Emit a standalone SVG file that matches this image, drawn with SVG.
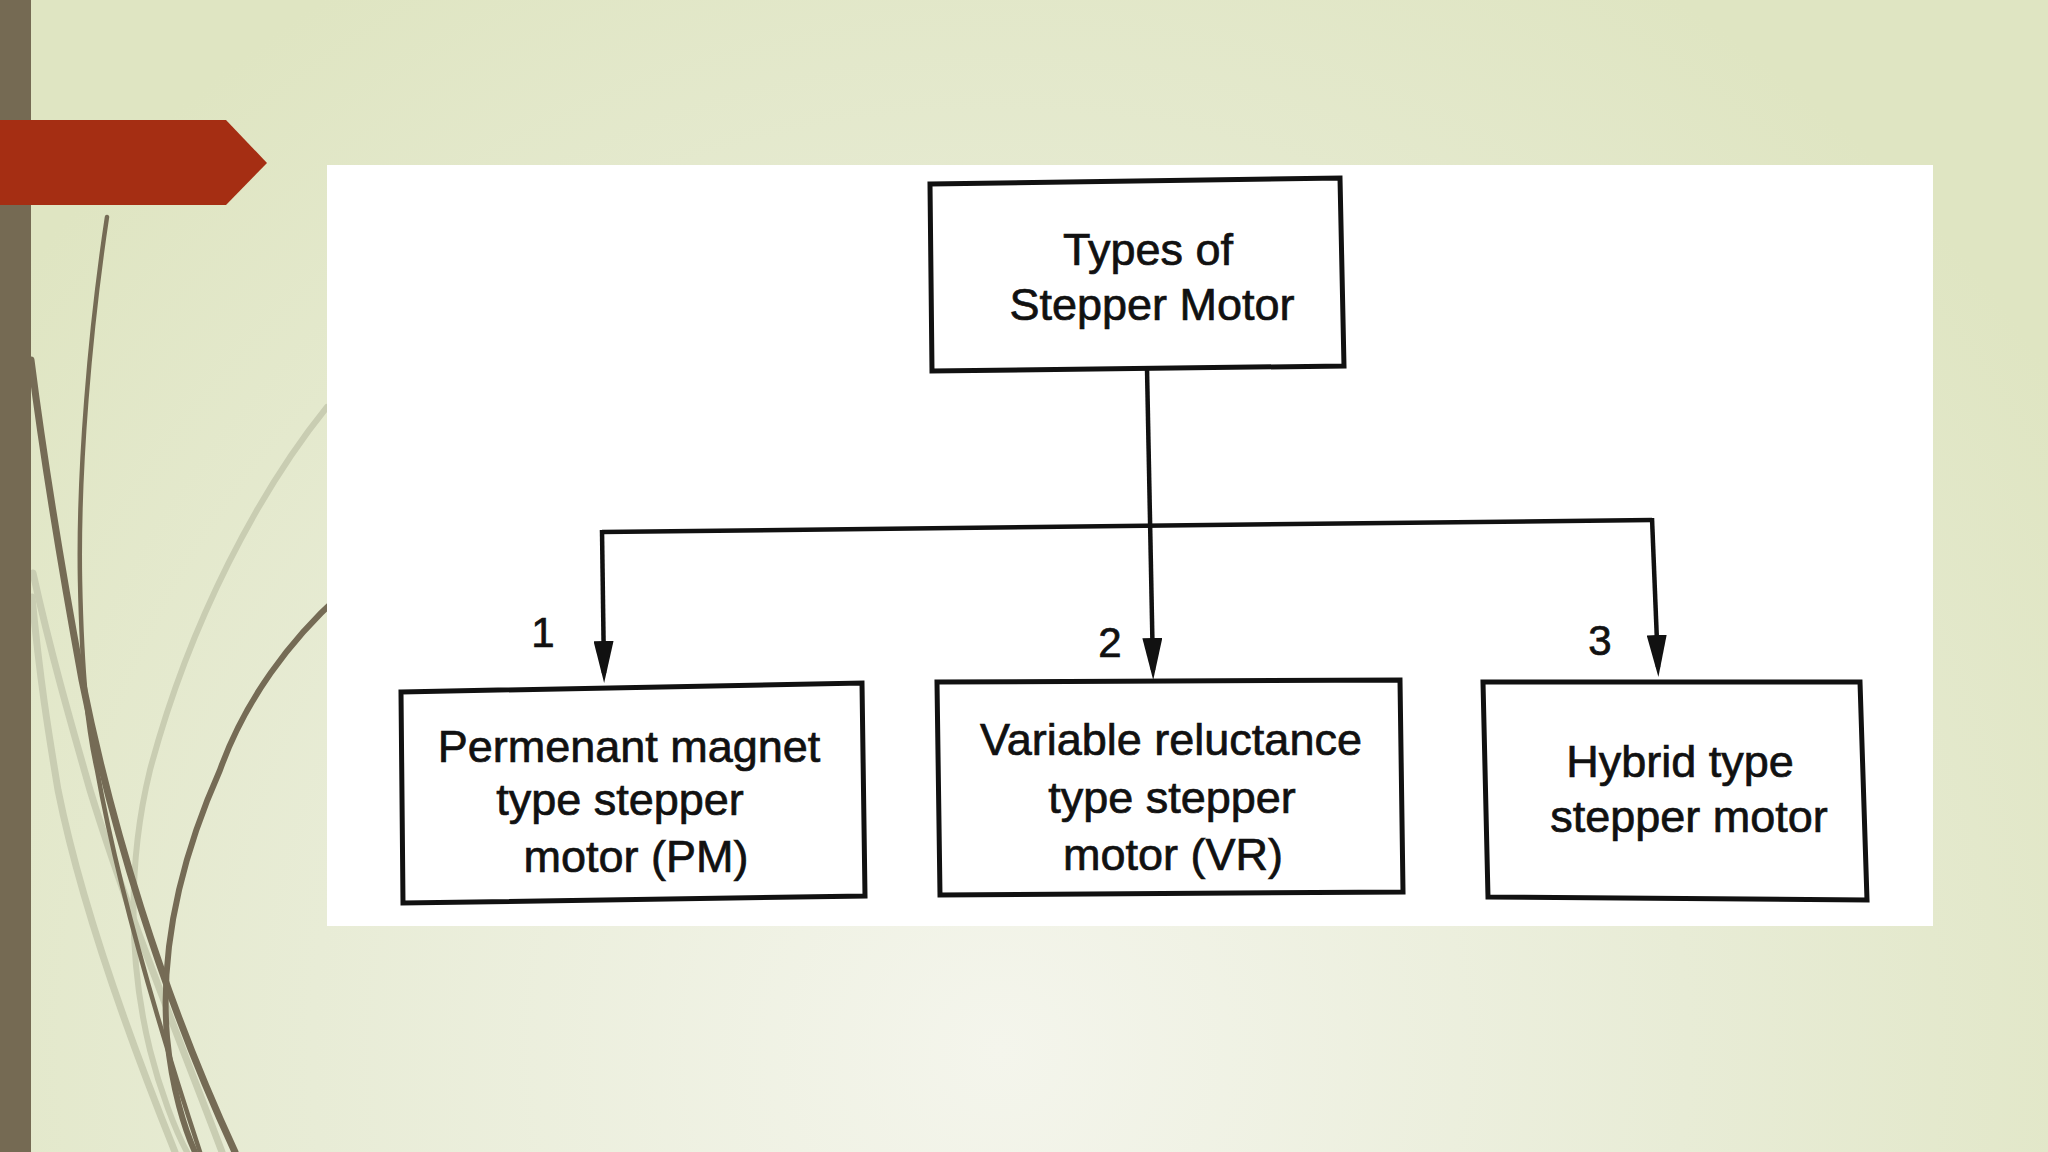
<svg xmlns="http://www.w3.org/2000/svg" width="2048" height="1152" viewBox="0 0 2048 1152">
<defs>
<radialGradient id="bg" cx="1000" cy="1050" r="1250" gradientUnits="userSpaceOnUse">
<stop offset="0" stop-color="#f4f5ec"/>
<stop offset="0.55" stop-color="#e8ecd6"/>
<stop offset="1" stop-color="#dfe5c2"/>
</radialGradient>
<marker id="ah" viewBox="0 0 42 20" refX="32" refY="10" markerWidth="42" markerHeight="20" markerUnits="userSpaceOnUse" orient="auto">
<path d="M0,0 L42,10 L0,20 z" fill="#111"/>
</marker>
<style>
.dk{fill:none;stroke:#756b55;stroke-linecap:round}
.lt{fill:none;stroke:#c9cdb2;stroke-linecap:round}
.box{fill:none;stroke:#111;stroke-width:5;stroke-linejoin:miter}
.ln{fill:none;stroke:#111;stroke-width:4.5}
.t{font-family:"Liberation Sans",Arial,sans-serif;font-size:45px;fill:#111;stroke:#111;stroke-width:0.7;text-anchor:middle}
.n{font-family:"Liberation Sans",Arial,sans-serif;font-size:42px;fill:#111;stroke:#111;stroke-width:0.7;text-anchor:middle}
</style>
</defs>
<rect x="0" y="0" width="2048" height="1152" fill="url(#bg)"/>
<g id="decor">
<path class="lt" stroke-width="6" d="M327,407 C260,490 190,620 150,770 C128,860 128,960 150,1050 C160,1090 175,1130 187,1152"/>
<path class="lt" stroke-width="7" d="M33,573 C50,650 70,720 90,790 C130,920 180,1040 222,1152"/>
<path class="lt" stroke-width="7" d="M32,597 C40,680 48,730 58,790 C80,900 130,1040 175,1152"/>
<path class="dk" stroke-width="4.5" d="M107,217 C90,330 78,470 80,580 C82,680 88,730 97,770 C115,870 150,1000 200,1152"/>
<path class="dk" stroke-width="7" d="M31,360 C45,470 60,560 82,680 C110,820 160,990 235,1152"/>
<path class="dk" stroke-width="6" d="M340,595 C290,640 245,700 220,770 C180,860 160,950 167,1037 C172,1090 185,1130 195,1152"/>
<rect x="0" y="0" width="31" height="1152" fill="#756a53"/>
<polygon points="0,120 226,120 267,163 226,205 0,205" fill="#a52e13"/>
</g>
<rect id="panel" x="327" y="165" width="1606" height="761" fill="#ffffff"/>
<g id="connectors">
<path class="ln" d="M1147,368 L1153,670" marker-end="url(#ah)"/>
<path class="ln" d="M602,532 L1652,520"/>
<path class="ln" d="M602,530 L604,673" marker-end="url(#ah)"/>
<path class="ln" d="M1652,518 L1658,667" marker-end="url(#ah)"/>
<text class="n" x="543" y="647">1</text>
<text class="n" x="1110" y="657">2</text>
<text class="n" x="1600" y="655">3</text>
</g>
<g id="node-root">
<polygon class="box" points="930,184 1340,178 1344,366 932,371"/>
<text class="t" x="1148" y="265">Types of</text>
<text class="t" x="1152" y="320">Stepper Motor</text>
</g>
<g id="node-pm">
<polygon class="box" points="401,692 862,683 865,896 403,903"/>
<text class="t" x="629" y="762">Permenant magnet</text>
<text class="t" x="620" y="815">type stepper</text>
<text class="t" x="636" y="872">motor (PM)</text>
</g>
<g id="node-vr">
<polygon class="box" points="937,682 1400,680 1403,892 940,895"/>
<text class="t" x="1171" y="755">Variable reluctance</text>
<text class="t" x="1172" y="813">type stepper</text>
<text class="t" x="1173" y="870">motor (VR)</text>
</g>
<g id="node-hybrid">
<polygon class="box" points="1483,682 1860,682 1867,900 1488,897"/>
<text class="t" x="1680" y="777">Hybrid type</text>
<text class="t" x="1689" y="832">stepper motor</text>
</g>
</svg>
